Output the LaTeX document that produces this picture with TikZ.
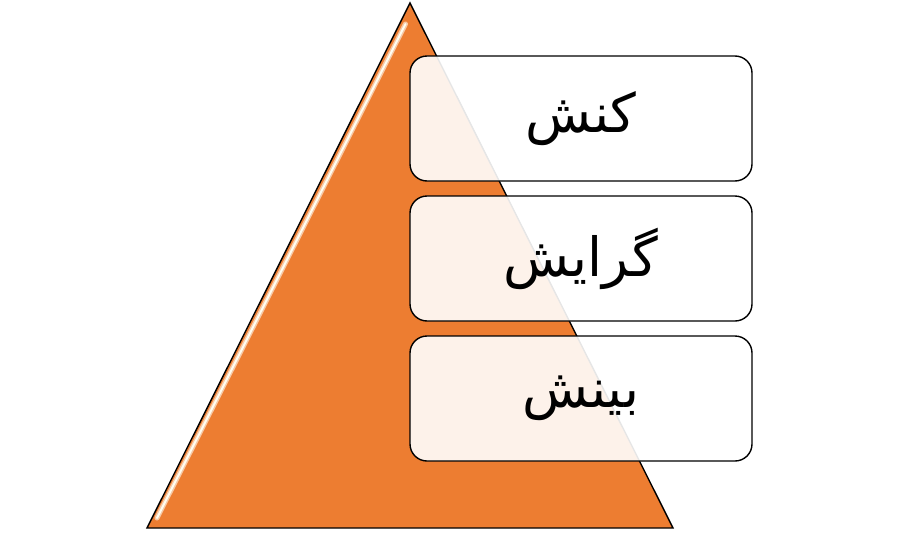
\documentclass[tikz,border=0pt]{standalone}
\usepackage{fontspec}
\newfontfamily\arabicfont[Script=Arabic]{DejaVu Sans}
\TeXXeTstate=1
\definecolor{pyrorange}{HTML}{ED7D31}
\definecolor{glow}{HTML}{F7C9A6}
\begin{document}
\begin{tikzpicture}[x=1pt,y=-1pt,
  labelbox/.style={draw=black, line width=1.4pt, rounded corners=17pt, fill=white, fill opacity=0.9, text opacity=1, minimum width=342pt, minimum height=125pt},
  labeltext/.style={font=\arabicfont\fontsize{54}{60}\selectfont, text=black}]
\useasboundingbox (0,0) rectangle (900,533);
\coordinate (apex) at (410,3);
\coordinate (bl) at (147,528);
\coordinate (br) at (673,528);
\fill[pyrorange] (apex) -- (br) -- (bl) -- cycle;
\draw[glow, line width=5pt, line cap=round] (405.5,24) -- (157,518);
\draw[white!95!yellow, line width=2pt, line cap=round] (405.5,24) -- (157,518);
\draw[black, line width=1.4pt, line join=miter] (apex) -- (br) -- (bl) -- cycle;
\node[labelbox] (b1) at (581,118.5) {};
\node[labelbox] (b2) at (581,258.5) {};
\node[labelbox] (b3) at (581,398.5) {};
\node[labeltext] (t1) at (b1.center) {\beginR کنش\endR};
\node[labeltext] (t2) at (b2.center) {\beginR گرایش\endR};
\node[labeltext] (t3) at (b3.center) {\beginR بینش\endR};
\end{tikzpicture}
\end{document}
